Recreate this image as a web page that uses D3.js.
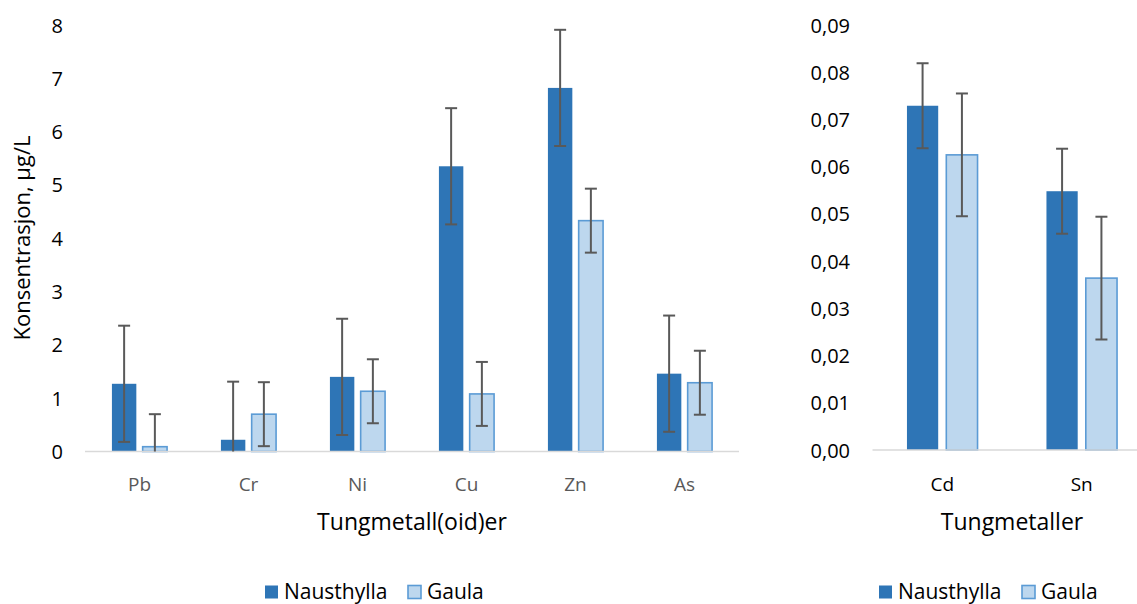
<!DOCTYPE html>
<html lang="no">
<head>
<meta charset="utf-8">
<title>Tungmetaller Nausthylla / Gaula</title>
<script src="https://cdn.jsdelivr.net/npm/d3@7"></script>
<style>
body { margin: 0; background: #fff; }
text { font-family: "Open Sans", sans-serif; }
</style>
</head>
<body>
<div id="chart"></div>
<script>
// data
var series = ["Nausthylla", "Gaula"];
var colors = { Nausthylla: "#2E75B6", Gaula: "#BDD7EE" };
var strokes = { Nausthylla: "none", Gaula: "#5B9BD5" };

var metalsLeft = ["Pb", "Cr", "Ni", "Cu", "Zn", "As"];
var nausLeft = [1.27, 0.22, 1.40, 5.35, 6.82, 1.46];
var gaulaLeft = [0.09, 0.70, 1.13, 1.08, 4.33, 1.29];
var nausLeftErr = [1.09, 1.09, 1.09, 1.09, 1.09, 1.09];
var gaulaLeftErr = [0.61, 0.60, 0.60, 0.60, 0.60, 0.60];
var ticksLeft = [0, 1, 2, 3, 4, 5, 6, 7, 8];

var metalsRight = ["Cd", "Sn"];
var nausRight = [0.0729, 0.0548];
var gaulaRight = [0.0625, 0.0364];
var nausRightErr = [0.009, 0.009];
var gaulaRightErr = [0.013, 0.013];
var ticksRight = [0, 0.01, 0.02, 0.03, 0.04, 0.05, 0.06, 0.07, 0.08, 0.09];

var width = 1137, height = 604;
var svg = d3.select("#chart").append("svg")
    .attr("width", width)
    .attr("height", height);

function drawPanel(cfg) {
    var x0 = d3.scaleBand()
        .domain(cfg.cats)
        .range(cfg.xRange)
        .paddingInner(0.494)
        .paddingOuter(0.247);
    var x1 = d3.scaleBand()
        .domain(series)
        .range([0, x0.bandwidth()])
        .paddingInner(0.206);
    var y = d3.scaleLinear()
        .domain(cfg.yDomain)
        .range(cfg.yRange);

    var rows = [];
    cfg.cats.forEach(function(c, i) {
        rows.push({ cat: c, s: "Nausthylla", v: cfg.naus[i], e: cfg.nausErr[i] });
        rows.push({ cat: c, s: "Gaula", v: cfg.gaula[i], e: cfg.gaulaErr[i] });
    });

    var g = svg.append("g");

    // y tick labels (no axis line, no gridlines)
    var yAxis = d3.axisLeft(y)
        .tickValues(cfg.ticks)
        .tickSize(0)
        .tickPadding(0)
        .tickFormat(cfg.fmt);
    g.append("g")
        .attr("transform", "translate(" + cfg.tickX + ",0)")
        .call(yAxis)
        .call(function(a) {
            a.select(".domain").remove();
            a.selectAll("text")
                .attr("font-size", "20px")
                .attr("font-family", "Open Sans")
                .attr("fill", "#000")
                .attr("dy", "0.35em");
        });

    // bars
    g.selectAll("rect.bar")
        .data(rows)
        .enter()
        .append("rect")
            .attr("class", "bar")
            .attr("x", function(d) { return x0(d.cat) + x1(d.s); })
            .attr("y", function(d) { return y(d.v); })
            .attr("width", x1.bandwidth())
            .attr("height", function(d) { return y(0) - y(d.v); })
            .attr("fill", function(d) { return colors[d.s]; })
            .attr("stroke", function(d) { return strokes[d.s]; })
            .attr("stroke-width", 1.6);

    // baseline
    g.append("line")
        .attr("x1", cfg.xRange[0])
        .attr("x2", cfg.xRange[1])
        .attr("y1", y(0))
        .attr("y2", y(0))
        .attr("stroke", "#D9D9D9")
        .attr("stroke-width", 1.5);

    // error bars
    var cx = function(d) { return x0(d.cat) + x1(d.s) + x1.bandwidth() / 2; };
    var lo = function(d) { return y(Math.max(0, d.v - d.e)); };
    var hi = function(d) { return y(d.v + d.e); };
    var err = g.selectAll("g.err")
        .data(rows)
        .enter()
        .append("g")
            .attr("class", "err")
            .attr("stroke", "#595959")
            .attr("stroke-width", 2);
    err.append("line")
        .attr("x1", cx).attr("x2", cx)
        .attr("y1", lo).attr("y2", hi);
    err.append("line")
        .attr("x1", function(d) { return cx(d) - 6; })
        .attr("x2", function(d) { return cx(d) + 6; })
        .attr("y1", hi).attr("y2", hi);
    err.filter(function(d) { return d.v - d.e > 0; })
        .append("line")
        .attr("x1", function(d) { return cx(d) - 6; })
        .attr("x2", function(d) { return cx(d) + 6; })
        .attr("y1", lo).attr("y2", lo);

    // category labels
    g.selectAll("text.cat")
        .data(cfg.cats)
        .enter()
        .append("text")
            .attr("class", "cat")
            .attr("x", function(d) { return x0(d) + x0.bandwidth() / 2; })
            .attr("y", 484)
            .attr("dy", "0.35em")
            .attr("text-anchor", "middle")
            .attr("font-size", "19px")
            .attr("fill", cfg.catColor)
            .text(function(d) { return d; });

    // x title
    g.append("text")
        .attr("x", (cfg.xRange[0] + cfg.xRange[1]) / 2)
        .attr("y", 522)
        .attr("dy", "0.35em")
        .attr("text-anchor", "middle")
        .attr("font-size", "23px")
        .attr("fill", "#000")
        .text(cfg.title);

    // legend
    var lg = g.append("g").attr("transform", "translate(" + cfg.legendX + ",592)");
    var items = lg.selectAll("g")
        .data(series)
        .enter()
        .append("g")
            .attr("transform", function(d, i) { return "translate(" + (i * 143) + ",0)"; });
    items.append("rect")
        .attr("x", 0).attr("y", -6.5)
        .attr("width", 13).attr("height", 13)
        .attr("fill", function(d) { return colors[d]; })
        .attr("stroke", function(d) { return strokes[d]; })
        .attr("stroke-width", 1.6);
    items.append("text")
        .attr("x", 19)
        .attr("y", 0)
        .attr("dy", "0.35em")
        .attr("font-size", "21px")
        .attr("fill", "#000")
        .text(function(d) { return d; });
}

drawPanel({
    cats: metalsLeft, naus: nausLeft, gaula: gaulaLeft,
    nausErr: nausLeftErr, gaulaErr: gaulaLeftErr,
    ticks: ticksLeft, fmt: d3.format("d"),
    xRange: [85, 739], yDomain: [0, 8], yRange: [451.5, 25],
    tickX: 63, catColor: "#595959", title: "Tungmetall(oid)er",
    legendX: 265
});

var commaFmt = function(v) { return d3.format(".2f")(v).replace(".", ","); };
drawPanel({
    cats: metalsRight, naus: nausRight, gaula: gaulaRight,
    nausErr: nausRightErr, gaulaErr: gaulaRightErr,
    ticks: ticksRight, fmt: commaFmt,
    xRange: [872.5, 1151.5], yDomain: [0, 0.09], yRange: [450, 25],
    tickX: 850, catColor: "#000", title: "Tungmetaller",
    legendX: 879
});

// y title, left panel only
svg.append("text")
    .attr("transform", "translate(22,238) rotate(-90)")
    .attr("dy", "0.35em")
    .attr("text-anchor", "middle")
    .attr("font-size", "22px")
    .attr("fill", "#000")
    .text("Konsentrasjon, µg/L");
</script>
</body>
</html>
